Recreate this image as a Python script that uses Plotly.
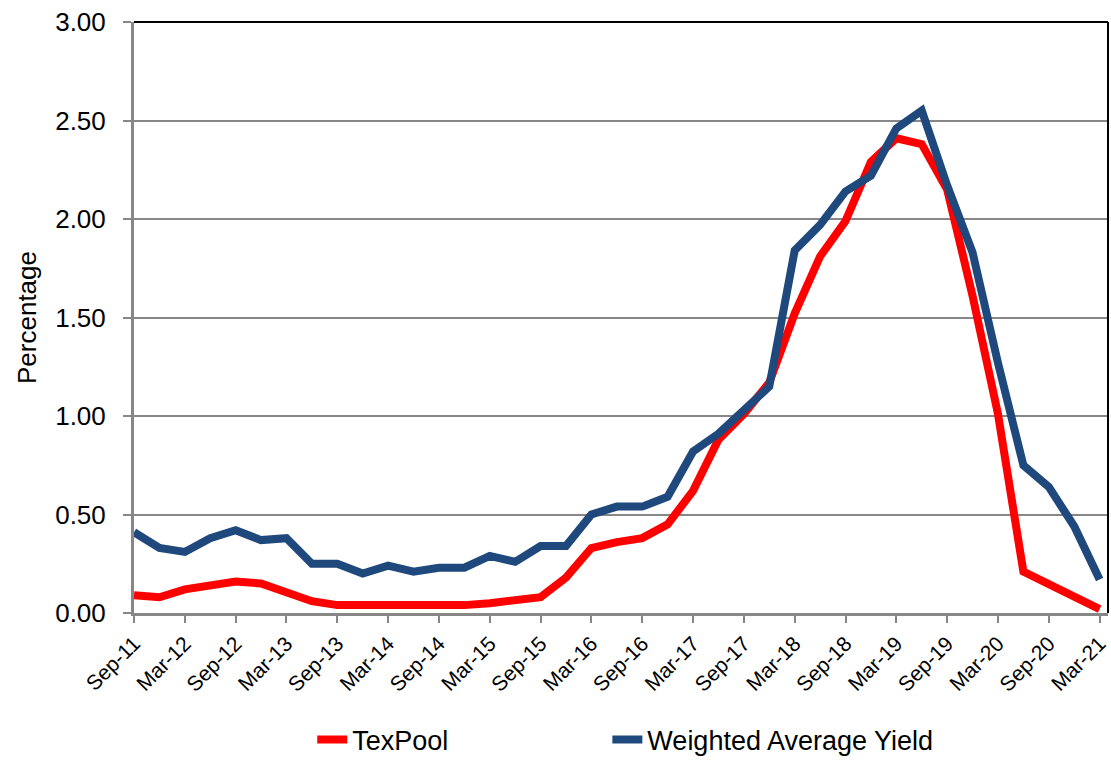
import plotly.graph_objects as go

# Quarter-end dates, Sep-11 through Mar-21
quarters = [
    "Sep-11", "Dec-11", "Mar-12", "Jun-12", "Sep-12", "Dec-12", "Mar-13", "Jun-13",
    "Sep-13", "Dec-13", "Mar-14", "Jun-14", "Sep-14", "Dec-14", "Mar-15", "Jun-15",
    "Sep-15", "Dec-15", "Mar-16", "Jun-16", "Sep-16", "Dec-16", "Mar-17", "Jun-17",
    "Sep-17", "Dec-17", "Mar-18", "Jun-18", "Sep-18", "Dec-18", "Mar-19", "Jun-19",
    "Sep-19", "Dec-19", "Mar-20", "Jun-20", "Sep-20", "Dec-20", "Mar-21",
]

texpool = [
    0.09, 0.08, 0.12, 0.14, 0.16, 0.15, 0.10, 0.06,
    0.04, 0.04, 0.03, 0.03, 0.03, 0.04, 0.05, 0.06,
    0.08, 0.18, 0.33, 0.36, 0.38, 0.45, 0.62, 0.88,
    1.01, 1.17, 1.52, 1.81, 1.99, 2.29, 2.41, 2.38,
    2.15, 1.61, 1.01, 0.21, 0.15, 0.09, 0.02,
]

weighted_avg_yield = [
    0.41, 0.33, 0.31, 0.38, 0.42, 0.37, 0.38, 0.25,
    0.25, 0.20, 0.24, 0.21, 0.23, 0.23, 0.29, 0.26,
    0.34, 0.34, 0.50, 0.54, 0.54, 0.59, 0.82, 0.91,
    1.03, 1.15, 1.84, 1.97, 2.14, 2.22, 2.46, 2.55,
    2.17, 1.83, 1.27, 0.75, 0.64, 0.44, 0.17,
]

# Label every other quarter (Mar / Sep)
tick_labels = quarters[::2]

FONT = "Liberation Sans, Arial, sans-serif"
GRID = "#878787"

fig = go.Figure()
fig.add_trace(go.Scatter(
    x=quarters, y=texpool, name="TexPool", mode="lines",
    line=dict(color="#FF0000", width=8), legend="legend",
))
fig.add_trace(go.Scatter(
    x=quarters, y=weighted_avg_yield, name="Weighted Average Yield", mode="lines",
    line=dict(color="#1F497D", width=8), legend="legend2",
))

legend_common = dict(
    orientation="h", xanchor="left", y=-0.215, yanchor="middle",
    font=dict(size=27), bgcolor="rgba(0,0,0,0)",
)

fig.update_layout(
    width=1111, height=765,
    margin=dict(l=134, r=1, t=22, b=152),
    paper_bgcolor="white", plot_bgcolor="white",
    font=dict(family=FONT, size=26, color="black"),
    showlegend=True,
    legend=dict(x=0.183, **legend_common),
    legend2=dict(x=0.486, **legend_common),
    xaxis=dict(
        type="category", range=[0, 38.33],
        tickmode="array", tickvals=tick_labels, ticktext=tick_labels,
        tickangle=-45, tickfont=dict(size=21),
        ticks="outside", ticklen=7, tickwidth=2, tickcolor=GRID,
        showline=True, linecolor=GRID, linewidth=3,
        showgrid=False, zeroline=False,
    ),
    yaxis=dict(
        range=[0, 3], dtick=0.5, tickformat=".2f",
        tickfont=dict(size=26),
        ticks="outside", ticklen=8, tickwidth=2, tickcolor=GRID,
        ticklabelstandoff=12,
        showline=True, linecolor=GRID, linewidth=3,
        showgrid=True, gridcolor=GRID, gridwidth=2,
        zeroline=False,
        title=dict(text="Percentage", font=dict(size=26), standoff=12),
    ),
)

# Dark frame along the top and right edges of the plot area
fig.add_shape(type="line", xref="paper", yref="paper", x0=0, x1=1, y0=1, y1=1,
              line=dict(color="black", width=2))
fig.add_shape(type="line", xref="paper", yref="paper", x0=1, x1=1, y0=0, y1=1,
              line=dict(color="black", width=2))

fig.write_html("out.html")
